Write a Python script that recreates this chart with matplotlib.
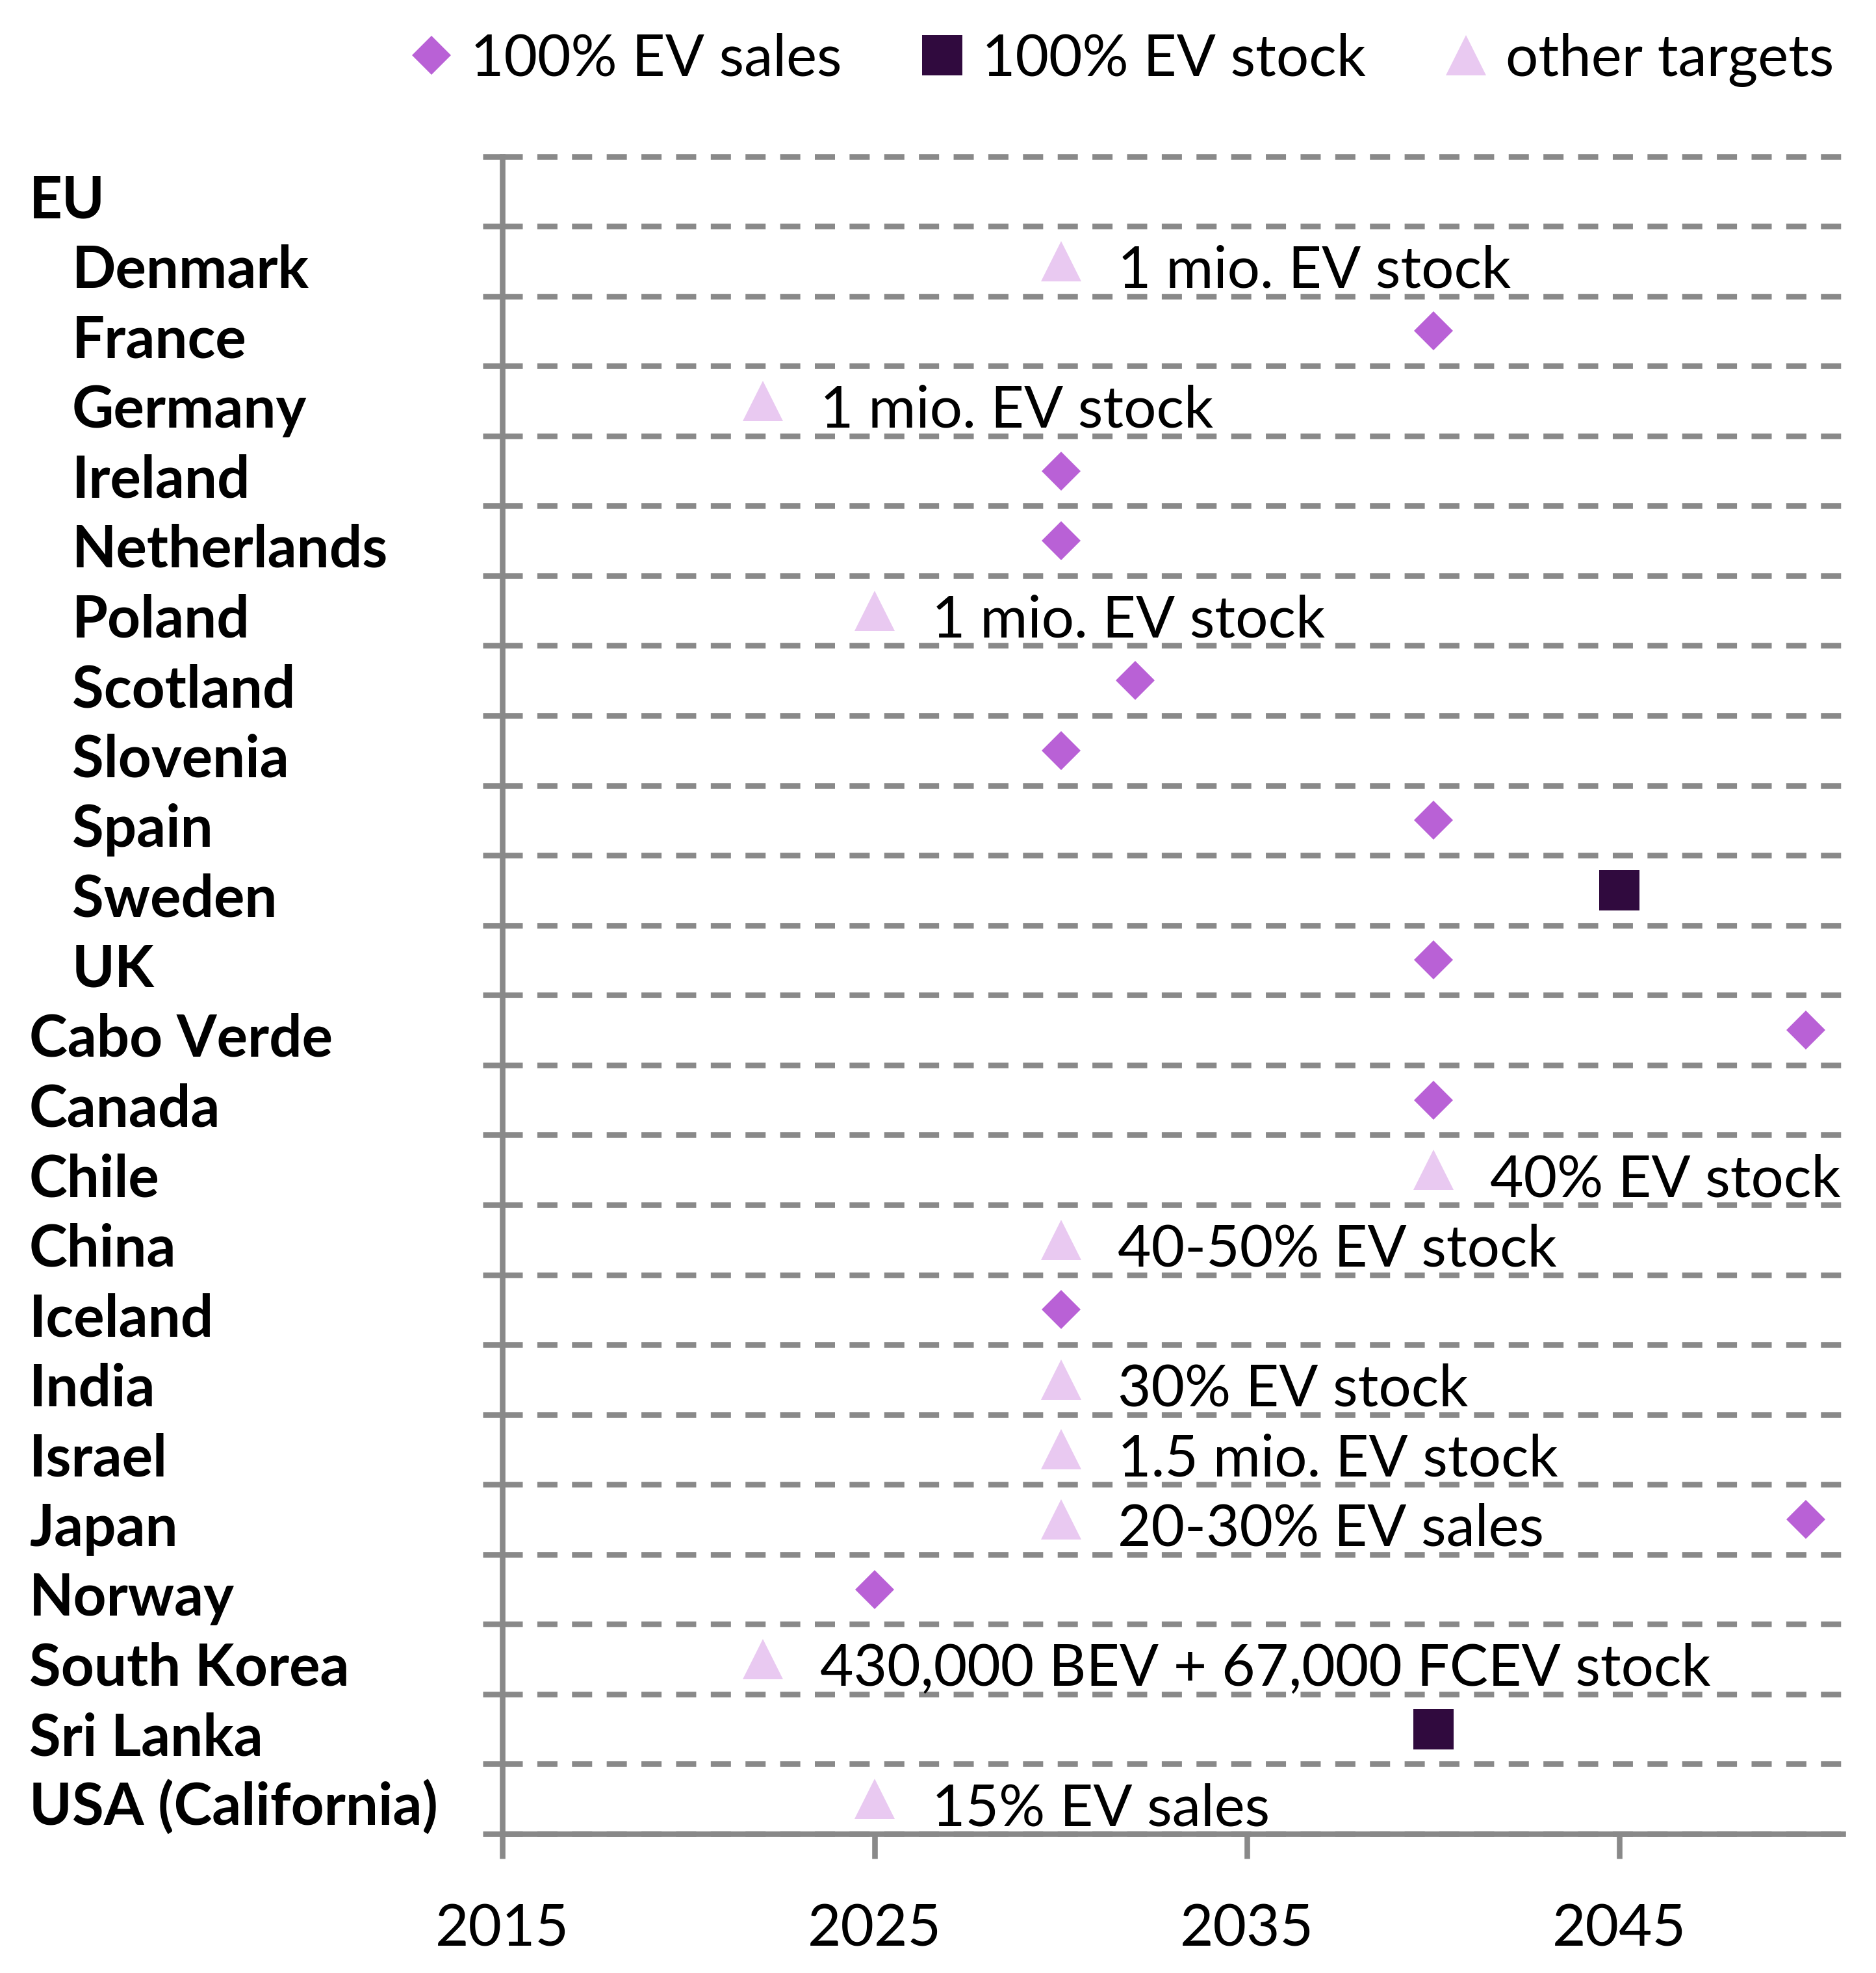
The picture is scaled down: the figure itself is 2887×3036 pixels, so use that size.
import matplotlib
matplotlib.use("Agg")
import matplotlib.pyplot as plt
import matplotlib.transforms as mtransforms

# ---------------- data ----------------
countries = ["EU", "Denmark", "France", "Germany", "Ireland", "Netherlands",
             "Poland", "Scotland", "Slovenia", "Spain", "Sweden", "UK",
             "Cabo Verde", "Canada", "Chile", "China", "Iceland", "India",
             "Israel", "Japan", "Norway", "South Korea", "Sri Lanka",
             "USA (California)"]
indented = [False] + [True] * 11 + [False] * 12

sales_countries = ["France", "Ireland", "Netherlands", "Scotland", "Slovenia",
                   "Spain", "UK", "Cabo Verde", "Canada", "Iceland", "Japan",
                   "Norway"]
sales_years = [2040, 2030, 2030, 2032, 2030, 2040, 2040, 2050, 2040, 2030,
               2050, 2025]

stock_countries = ["Sweden", "Sri Lanka"]
stock_years = [2045, 2040]

other_countries = ["Denmark", "Germany", "Poland", "Chile", "China", "India",
                   "Israel", "Japan", "South Korea", "USA (California)"]
other_years = [2030, 2022, 2025, 2040, 2030, 2030, 2030, 2030, 2022, 2025]
other_labels = ["1 mio. EV stock", "1 mio. EV stock", "1 mio. EV stock",
                "40% EV stock", "40-50% EV stock", "30% EV stock",
                "1.5 mio. EV stock", "20-30% EV sales",
                "430,000 BEV + 67,000 FCEV stock", "15% EV sales"]

legend_labels = ["100% EV sales", "100% EV stock", "other targets"]
x_ticks = [2015, 2025, 2035, 2045]
x_limits = (2015, 2051)

# ---------------- style ----------------
plt.rcParams["font.family"] = ["Lato", "DejaVu Sans"]
FS = 64
GRAY = "#898989"
C_SALES = "#B961D6"
C_STOCK = "#300A3E"
C_OTHER = "#E9C9F1"

W, H = 2887, 3036
fig = plt.figure(figsize=(W / 100, H / 100), dpi=100)
ax = fig.add_axes([773 / W, 1 - 2822 / H, (2836 - 773) / W, (2822 - 240.5) / H])

row = {c: i + 0.5 for i, c in enumerate(countries)}

ax.set_xlim(*x_limits)
ax.set_ylim(len(countries), 0)

ms_kw = dict(linestyle="none", markeredgewidth=0, clip_on=False, zorder=5)
h1, = ax.plot(sales_years, [row[c] for c in sales_countries], marker="D",
              markersize=31, color=C_SALES, label=legend_labels[0], **ms_kw)
h2, = ax.plot(stock_years, [row[c] for c in stock_countries], marker="s",
              markersize=44, color=C_STOCK, label=legend_labels[1], **ms_kw)
h3, = ax.plot(other_years, [row[c] for c in other_countries], marker="^",
              markersize=44, color=C_OTHER, label=legend_labels[2], **ms_kw)

# annotations for other targets
off = mtransforms.ScaledTranslation(63 / 72, 0, fig.dpi_scale_trans)
for c, yr, lab in zip(other_countries, other_years, other_labels):
    ax.text(yr, row[c] + 0.38, lab, transform=ax.transData + off,
            ha="left", va="baseline", fontsize=FS, color="black")

# category labels
blend = mtransforms.blended_transform_factory(fig.transFigure, ax.transData)
for c, ind in zip(countries, indented):
    x = (111 if ind else 45) / W
    ax.text(x, row[c] + 0.38, c, transform=blend, ha="left", va="baseline",
            fontsize=FS, fontweight="bold", color="black")

# axes styling
for s in ["top", "right"]:
    ax.spines[s].set_visible(False)
for s in ["left", "bottom"]:
    ax.spines[s].set_color(GRAY)
    ax.spines[s].set_linewidth(6.2)

ax.set_yticks(range(len(countries) + 1))
ax.set_yticklabels([])
ax.tick_params(axis="y", direction="out", length=21.6, width=6.2, color=GRAY)
ax.set_xticks(x_ticks)
ax.set_xticklabels([str(t) for t in x_ticks])
ax.tick_params(axis="x", direction="out", length=27, width=6.2, color=GRAY,
               labelsize=FS, pad=50)

ax.set_axisbelow(True)
ax.yaxis.grid(True, color=GRAY, linewidth=6.2, linestyle=(0, (3.6, 2.6)))
ax.xaxis.grid(False)
for gl in ax.get_ygridlines():
    gl.set_clip_on(False)

leg = ax.legend(handles=[h1, h2, h3], labels=legend_labels, loc="center right",
                bbox_to_anchor=(2822 / W, 1 - 92 / H),
                bbox_transform=fig.transFigure, ncol=3, frameon=False,
                handlelength=0.8, handletextpad=0.28, columnspacing=1.34,
                borderpad=0, borderaxespad=0, fontsize=FS, numpoints=1)

fig.savefig("out.png", dpi=100)
